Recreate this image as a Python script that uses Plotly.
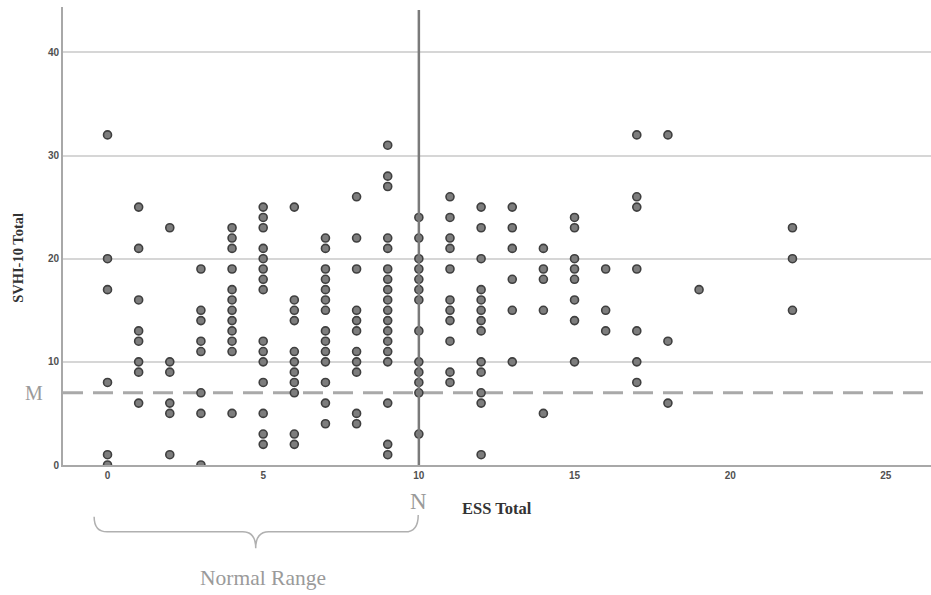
import plotly.graph_objects as go

# ---- data: SVHI-10 totals observed at each ESS total ----
ess_values = [0, 1, 2, 3, 4, 5, 6, 7, 8, 9, 10, 11, 12, 13, 14, 15, 16, 17, 18, 19, 22]
svhi_ess0 = [32, 20, 17, 8, 1, 0]
svhi_ess1 = [25, 21, 16, 13, 12, 10, 9, 6]
svhi_ess2 = [23, 10, 9, 6, 5, 1]
svhi_ess3 = [19, 15, 14, 12, 11, 7, 5, 0]
svhi_ess4 = [23, 22, 21, 19, 17, 16, 15, 14, 13, 12, 11, 5]
svhi_ess5 = [25, 24, 23, 21, 20, 19, 18, 17, 12, 11, 10, 8, 5, 3, 2]
svhi_ess6 = [25, 16, 15, 14, 11, 10, 9, 8, 7, 3, 2]
svhi_ess7 = [22, 21, 19, 18, 17, 16, 15, 13, 12, 11, 10, 8, 6, 4]
svhi_ess8 = [26, 22, 19, 15, 14, 13, 11, 10, 9, 5, 4]
svhi_ess9 = [31, 28, 27, 22, 21, 19, 18, 17, 16, 15, 14, 13, 12, 11, 10, 6, 2, 1]
svhi_ess10 = [24, 22, 20, 19, 18, 17, 16, 13, 10, 9, 8, 7, 3]
svhi_ess11 = [26, 24, 22, 21, 19, 16, 15, 14, 12, 9, 8]
svhi_ess12 = [25, 23, 20, 17, 16, 15, 14, 13, 10, 9, 7, 6, 1]
svhi_ess13 = [25, 23, 21, 18, 15, 10]
svhi_ess14 = [21, 19, 18, 15, 5]
svhi_ess15 = [24, 23, 20, 19, 18, 16, 14, 10]
svhi_ess16 = [19, 15, 13]
svhi_ess17 = [32, 26, 25, 19, 13, 10, 8]
svhi_ess18 = [32, 12, 6]
svhi_ess19 = [17]
svhi_ess22 = [23, 20, 15]

svhi_groups = [svhi_ess0, svhi_ess1, svhi_ess2, svhi_ess3, svhi_ess4, svhi_ess5,
               svhi_ess6, svhi_ess7, svhi_ess8, svhi_ess9, svhi_ess10, svhi_ess11,
               svhi_ess12, svhi_ess13, svhi_ess14, svhi_ess15, svhi_ess16,
               svhi_ess17, svhi_ess18, svhi_ess19, svhi_ess22]

x_ticks = [0, 5, 10, 15, 20, 25]
y_ticks = [0, 10, 20, 30, 40]
normal_cutoff = 10      # "N"
mean_svhi = 7           # "M"
normal_range = [0, 10]

xs, ys = [], []
for e, grp in zip(ess_values, svhi_groups):
    for v in grp:
        xs.append(e)
        ys.append(v)

x_range = [-1.43, 26.45]
y_range = [0, 44.4]


def xp(v):
    return (v - x_range[0]) / (x_range[1] - x_range[0])


fig = go.Figure()
fig.add_trace(go.Scatter(
    x=xs, y=ys, mode="markers",
    marker=dict(size=8, color="#7d7d7d", line=dict(color="#3f3f3f", width=1.6)),
    hoverinfo="x+y", showlegend=False,
))

serif = "Liberation Serif, Times New Roman, serif"

# reference lines
fig.add_shape(type="line", xref="x", yref="y", x0=x_range[0], x1=x_range[1],
              y0=mean_svhi, y1=mean_svhi,
              line=dict(color="#a9a9a9", width=3, dash="20px,10px"), layer="below")
fig.add_shape(type="line", xref="x", yref="y", x0=normal_cutoff, x1=normal_cutoff,
              y0=0, y1=44.1, line=dict(color="#7a7a7a", width=2.5), layer="above")

# brace under the normal range (paper coords derived from the range)
a, b = normal_range
l = xp(a - 0.43)
r = xp(b - 0.02)
m = xp((a + b) / 2 - 0.24)
yt, yb, ytip, yr = -0.113, -0.146, -0.182, -0.109
dx = xp(0.7) - xp(0)
brace = (f"M {l},{yt} Q {l},{yb} {l+dx*0.6},{yb} L {m-dx*0.6},{yb} "
         f"Q {m},{yb} {m},{ytip} Q {m},{yb} {m+dx*0.6},{yb} "
         f"L {r-dx*0.6},{yb} Q {r},{yb} {r},{yr}")
fig.add_shape(type="path", xref="paper", yref="paper", path=brace,
              line=dict(color="#b0b0b0", width=1.5))

annotations = [
    dict(text="M", xref="paper", yref="y", x=-0.0334, y=mean_svhi, showarrow=False,
         font=dict(family=serif, size=20, color="#9a9a9a"), xanchor="center", yanchor="middle"),
    dict(text="N", xref="x", yref="paper", x=normal_cutoff, y=-0.079, showarrow=False,
         font=dict(family=serif, size=23, color="#9a9a9a"), xanchor="center", yanchor="middle"),
    dict(text="Normal Range", xref="x", yref="paper", x=(a + b) / 2, y=-0.247, showarrow=False,
         font=dict(family=serif, size=21.5, color="#9a9a9a"), xanchor="center", yanchor="middle"),
    dict(text="<b>ESS Total</b>", xref="paper", yref="paper", x=0.5, y=-0.096, showarrow=False,
         font=dict(family=serif, size=16.5, color="#333333"), xanchor="center", yanchor="middle"),
    dict(text="<b>SVHI-10 Total</b>", xref="paper", yref="paper", x=-0.052, y=0.452,
         showarrow=False, textangle=-90,
         font=dict(family=serif, size=14.5, color="#333333"), xanchor="center", yanchor="middle"),
]

fig.update_layout(
    width=931, height=595,
    margin=dict(l=63, r=0, t=7, b=130),
    paper_bgcolor="white", plot_bgcolor="white",
    showlegend=False,
    annotations=annotations,
    xaxis=dict(range=x_range, tickvals=x_ticks, showgrid=False, zeroline=False,
               showline=True, linecolor="#a8a8a8", linewidth=2, ticks="",
               tickfont=dict(family="Liberation Sans, Arial", size=10, color="#505050", weight="bold")),
    yaxis=dict(range=y_range, tickvals=y_ticks, showgrid=True, gridcolor="#d6d6d6", gridwidth=1.5,
               zeroline=False, showline=True, linecolor="#a8a8a8", linewidth=2, ticks="",
               tickfont=dict(family="Liberation Sans, Arial", size=10, color="#505050", weight="bold")),
)

fig.write_html("out.html", config={"displayModeBar": False},
               post_script="document.body.style.margin='0';document.body.style.padding='0';")
